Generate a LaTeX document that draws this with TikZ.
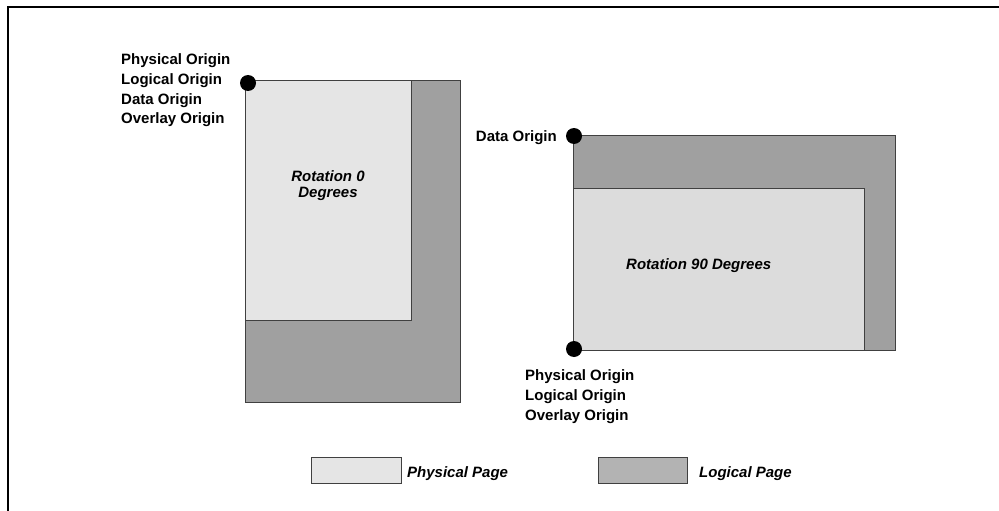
\documentclass[tikz,border=0pt]{standalone}
\usepackage{fontspec}
\setmainfont{Liberation Sans}
\definecolor{lightA}{HTML}{E5E5E5}
\definecolor{lightB}{HTML}{DCDCDC}
\definecolor{darkA}{HTML}{A0A0A0}
\definecolor{darkL}{HTML}{B3B3B3}
\begin{document}
\begin{tikzpicture}[x=1pt,y=-1pt,
  lbl/.style={inner sep=0pt,anchor=base west,font=\fontsize{15}{18}\selectfont\bfseries},
  ilbl/.style={lbl,font=\fontsize{15}{18}\selectfont\bfseries\itshape},
  pagebox/.style={draw=black!75,line width=1pt},
  origin/.style={circle,fill=black,inner sep=0pt,minimum size=16pt}]
\useasboundingbox (0,0) rectangle (999,511);
% frame
\draw[line width=2pt] (8,511) -- (8,7) -- (999,7);
% left figure
\draw[pagebox,fill=darkA] (245,81) rectangle (460,402);
\draw[pagebox,fill=lightA] (245,81) rectangle (411,320);
\node[origin] (o1) at (248,83) {};
\node[lbl] (l1) at (121,65) {Physical Origin};
\node[lbl] (l2) at (121,84.5) {Logical Origin};
\node[lbl] (l3) at (121,104) {Data Origin};
\node[lbl] (l4) at (121,123.5) {Overlay Origin};
\node[ilbl,anchor=base] (r0a) at (328,181) {Rotation 0};
\node[ilbl,anchor=base] (r0b) at (328,197.5) {Degrees};
% right figure
\draw[pagebox,fill=darkA] (573,135) rectangle (895,350);
\draw[pagebox,fill=lightB] (573,188) rectangle (864,350);
\node[origin] (o2) at (574,136) {};
\node[origin] (o3) at (574,349) {};
\node[lbl,anchor=base east] (d1) at (557,141) {Data Origin};
\node[ilbl] (r90) at (626,269) {Rotation 90 Degrees};
\node[lbl] (b1) at (525,380) {Physical Origin};
\node[lbl] (b2) at (525,400) {Logical Origin};
\node[lbl] (b3) at (525,420) {Overlay Origin};
% legend
\draw[pagebox,fill=lightA] (311,457) rectangle (401,483);
\node[ilbl] (lg1) at (407,477) {Physical Page};
\draw[pagebox,fill=darkL] (598,457) rectangle (687,483);
\node[ilbl] (lg2) at (699,477) {Logical Page};
\end{tikzpicture}
\end{document}
